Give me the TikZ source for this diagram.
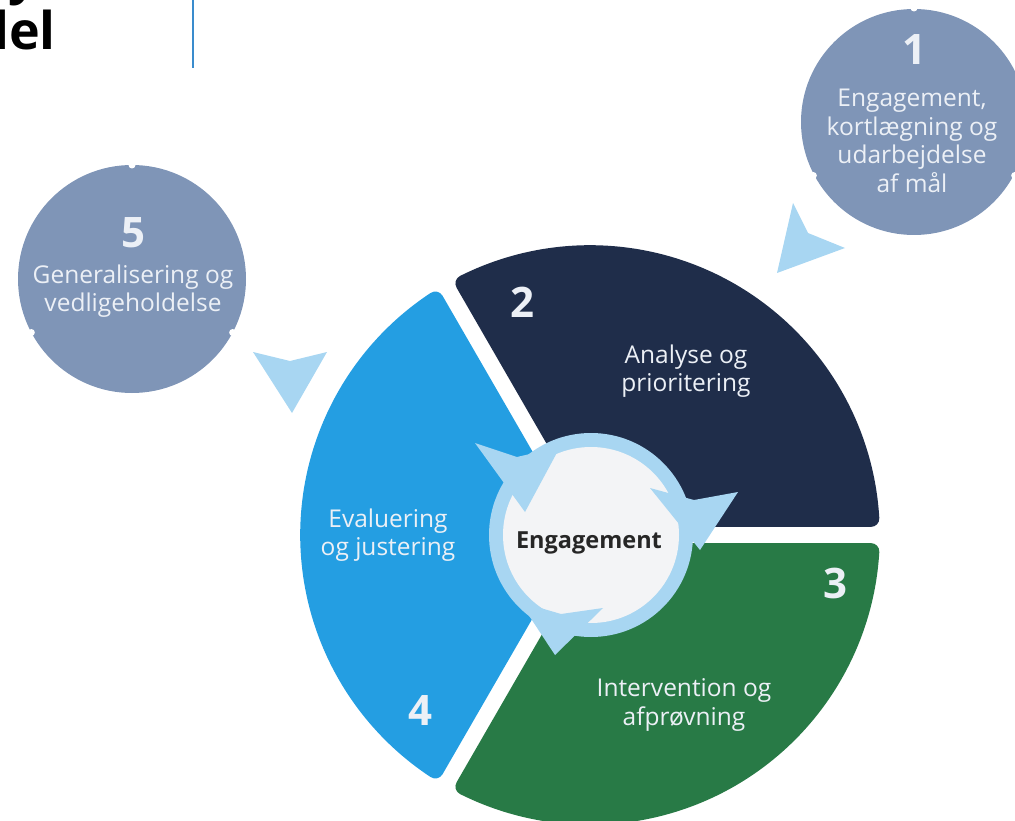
\documentclass[tikz,border=0pt]{standalone}
\usepackage{fontspec}
\setmainfont{Open Sans}
\definecolor{navyseg}{RGB}{31,45,74}
\definecolor{greenseg}{RGB}{40,122,70}
\definecolor{blueseg}{RGB}{36,158,226}
\definecolor{slate}{RGB}{127,149,183}
\definecolor{ringblue}{RGB}{168,214,242}
\definecolor{corewhite}{RGB}{243,244,246}
\definecolor{paletext}{RGB}{236,240,246}
\definecolor{ruleblue}{RGB}{58,140,205}
\begin{document}
\begin{tikzpicture}
[x=1pt, y=-1pt, nodes={align=center, inner sep=0pt, text=paletext, font=\fontsize{24.5}{28.5}\selectfont},
 num/.style={font=\fontsize{42}{42}\selectfont\bfseries}]
\useasboundingbox (0,0) rectangle (1015,821);

\node (titleA) at (8,-6) [anchor=base west, text=black, font=\fontsize{52}{52}\selectfont\bfseries] {y};
\node (titleB) at (-24,50) [anchor=base west, text=black, font=\fontsize{52}{52}\selectfont\bfseries] {del};
\draw[ruleblue, line width=2pt] (193,0) -- (193,68);

\fill[slate] (914,122) circle (113);
\fill[slate] (132,279) circle (114);
\foreach \c in {(914,122), (132,279)}
  \foreach \a in {28,152,270}
    \fill[white] \c ++(\a:114) circle (3.5);

\foreach \col/\a in {greenseg/0, blueseg/120, navyseg/240}
  \fill[\col, rounded corners=9pt] (590,535) ++(\a+60:9.3)
    -- plot[domain=\a+1.6:\a+118.4, samples=30] ({590+290*cos(\x)}, {535+290*sin(\x)}) -- cycle;

\fill[ringblue] (591,535) circle (102);
\fill[corewhite] (591,535) circle (88);
\fill[ringblue] (475,443) -- (517,457) -- (560,447) -- (525,512) -- cycle;
\fill[ringblue] (650,488) -- (694,500) -- (738,492) -- (700,550) -- cycle;
\fill[ringblue] (520,602) -- (561,614) -- (603,608) -- (555,655) -- cycle;

\fill[ringblue] (793,203) -- (808,233) -- (845,248) -- (777,273) -- cycle;
\fill[ringblue] (253,352) -- (290,361) -- (327,352) -- (292,413) -- cycle;

\node (Num1) at (914,50) [num] {1};
\node (One) at (912,141) {Engagement,\\kortlægning og\\udarbejdelse\\af mål};
\node (Num5) at (133,233) [num] {5};
\node (Five) at (133,291) {Generalisering og\\vedligeholdelse};
\node (Num2) at (522,302) [num] {2};
\node (Two) at (686,371) {Analyse og\\prioritering};
\node (Num3) at (835,583) [num] {3};
\node (Three) at (684,705) {Intervention og\\afprøvning};
\node (Num4) at (420,711) [num] {4};
\node (Four) at (388,535) {Evaluering\\og justering};
\node (Core) at (589,543) [text=black!85, font=\fontsize{23.5}{28}\selectfont\bfseries] {Engagement};
\end{tikzpicture}
\end{document}
